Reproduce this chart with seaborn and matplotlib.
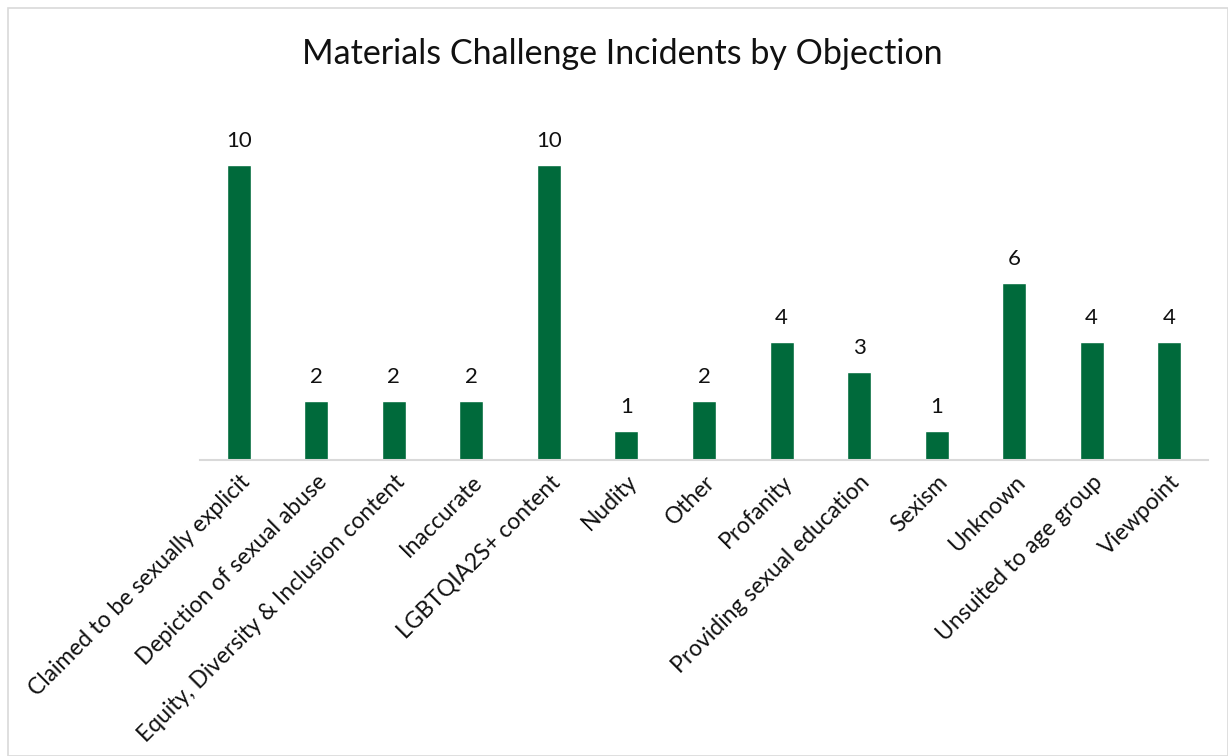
import matplotlib
matplotlib.use("Agg")
import matplotlib.pyplot as plt
import seaborn as sns
import pandas as pd
from matplotlib.patches import Rectangle

categories = [
    "Claimed to be sexually explicit",
    "Depiction of sexual abuse",
    "Equity, Diversity & Inclusion content",
    "Inaccurate",
    "LGBTQIA2S+ content",
    "Nudity",
    "Other",
    "Profanity",
    "Providing sexual education",
    "Sexism",
    "Unknown",
    "Unsuited to age group",
    "Viewpoint",
]
incidents = [10, 2, 2, 2, 10, 1, 2, 4, 3, 1, 6, 4, 4]

df = pd.DataFrame({"objection": categories, "count": incidents})

sns.set_style("white")
plt.rcParams["font.family"] = ["Lato", "DejaVu Sans"]

fig = plt.figure(figsize=(12.28, 7.56), dpi=100)
ax = fig.add_axes([200 / 1228, 1 - 460 / 756, 1008 / 1228, 354 / 756])

sns.barplot(data=df, x="objection", y="count", color="#006A3B",
            width=0.31, saturation=1, ax=ax)
for c in ax.containers:
    ax.bar_label(c, padding=10, fontsize=16, color="#111111")

ax.set_xlim(-0.5, len(categories) - 0.5)
ax.set_ylim(0, 12)
ax.set_yticks([])
ax.set_xlabel("")
ax.set_ylabel("")
for s in ["top", "left", "right"]:
    ax.spines[s].set_visible(False)
ax.spines["bottom"].set_color("#d9d9d9")
ax.spines["bottom"].set_linewidth(1.5)
ax.tick_params(axis="x", length=0, pad=8)
plt.setp(ax.get_xticklabels(), rotation=45, ha="right",
         rotation_mode="anchor", fontsize=16.5, color="#111111")

fig.suptitle("Materials Challenge Incidents by Objection", x=0.507, y=0.95,
             fontsize=24.5, color="#111111")

fig.patches.append(Rectangle((8 / 1228, 0), 1 - 8 / 1228, 1 - 8 / 756,
                             transform=fig.transFigure, fill=False,
                             edgecolor="#d9d9d9", linewidth=1.2))

fig.savefig("out.png", dpi=100)
